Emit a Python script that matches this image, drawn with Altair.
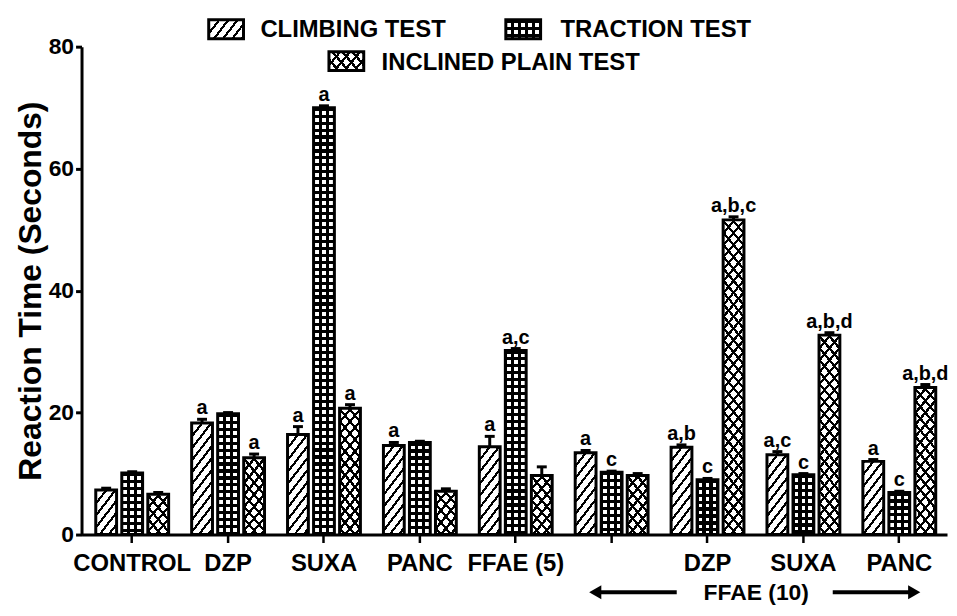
import altair as alt
import pandas as pd

# ---------------- data ----------------
categories = ["CONTROL", "DZP", "SUXA", "PANC", "FFAE (5)", "FFAE (10)",
              "DZP + FFAE (10)", "SUXA + FFAE (10)", "PANC + FFAE (10)"]
tick_labels = ["CONTROL", "DZP", "SUXA", "PANC", "FFAE (5)", "", "DZP", "SUXA", "PANC"]
series = ["CLIMBING TEST", "TRACTION TEST", "INCLINED PLAIN TEST"]

climbing = [7.3, 18.3, 16.4, 14.6, 14.4, 13.4, 14.3, 13.1, 12.0]
traction = [10.1, 19.8, 70.0, 15.1, 30.2, 10.2, 9.0, 9.8, 6.9]
inclined = [6.6, 12.6, 20.7, 7.1, 9.7, 9.7, 51.6, 32.7, 24.1]

climbing_err = [0.3, 0.6, 1.3, 0.5, 1.7, 0.4, 0.4, 0.5, 0.3]
traction_err = [0.2, 0.2, 0.3, 0.2, 0.3, 0.2, 0.2, 0.2, 0.2]
inclined_err = [0.3, 0.6, 0.6, 0.4, 1.4, 0.3, 0.5, 0.4, 0.5]

climbing_sig = ["", "a", "a", "a", "a", "a", "a,b", "a,c", "a"]
traction_sig = ["", "", "a", "", "a,c", "c", "c", "c", "c"]
inclined_sig = ["", "a", "a", "", "", "", "a,b,c", "a,b,d", "a,b,d"]

group_label = "FFAE (10)"

# ---------------- layout ----------------
W, H = 871, 491
YMAX = 80
PXU = H / YMAX
X_PI, X_PO, X_ALIGN = 0.24, 0.133, 0.558
O_PI = 0.2
step = W / (len(categories) - X_PI + 2 * X_PO)
bandw = step * (1 - X_PI)
bar_w = bandw / (len(series) - O_PI) * (1 - O_PI)

FONT = "Liberation Sans"
CLEAR = "rgba(0,0,0,0)"


def stripe_stops(n, duty, on, off, phase=0.0):
    p = 1.0 / n
    stops = []
    m = -1
    while True:
        a = (m + phase) * p
        if a >= 1:
            break
        b = a + duty * p
        a2, b2 = max(a, 0.0), min(b, 1.0)
        if b2 > a2:
            stops += [(a2, off), (a2, on), (b2, on), (b2, off)]
        m += 1
    if not stops:
        stops = [(0.0, off), (1.0, off)]
    return [{"offset": round(o, 5), "color": c} for o, c in stops]


def grad_diag(w, h, s, period, duty, on, off, family, phase=0.0):
    D = s * w + h
    k = D / (s * s * w * w + h * h)
    st = stripe_stops(D / period, duty, on, off, phase)
    if family == "/":
        return {"gradient": "linear", "x1": 0, "y1": 0,
                "x2": round(k * s * w, 6), "y2": round(k * h, 6), "stops": st}
    return {"gradient": "linear", "x1": 1, "y1": 0,
            "x2": round(1 - k * s * w, 6), "y2": round(k * h, 6), "stops": st}


def grad_cols(w, period, duty, on, off, phase):
    n = max(1, round(w / period))
    return {"gradient": "linear", "x1": 0, "y1": 0, "x2": 1, "y2": 0,
            "stops": stripe_stops(n, duty, on, off, phase)}


def grad_rows(h, period, duty, on, off, phase=0.0):
    return {"gradient": "linear", "x1": 0, "y1": 0, "x2": 0, "y2": 1,
            "stops": stripe_stops(h / period, duty, on, off, phase)}


def pattern_fills(kind, w, h):
    if kind == 0:
        return [grad_diag(w, h, 1.3, 12, 0.3, "black", "white", "/")]
    if kind == 1:
        return [grad_cols(w, 7, 0.55, "white", "black", 0.225),
                grad_rows(h, 7, 0.45, "black", CLEAR)]
    return [grad_diag(w, h, 1.2, 12, 0.3, "black", "white", "/"),
            grad_diag(w, h, 1.2, 12, 0.3, "black", CLEAR, "\\")]


rows = []
for j, (s, vals, errs, sigs) in enumerate(zip(
        series, [climbing, traction, inclined],
        [climbing_err, traction_err, inclined_err],
        [climbing_sig, traction_sig, inclined_sig])):
    for i, c in enumerate(categories):
        rows.append({"cat": c, "series": s, "value": vals[i], "err": errs[i],
                     "top": round(vals[i] + errs[i], 3), "sig": sigs[i], "kind": j})
df = pd.DataFrame(rows)

# ---------------- scales / axes ----------------
xs = alt.Scale(domain=categories, paddingInner=X_PI, paddingOuter=X_PO, align=X_ALIGN)
os_ = alt.Scale(domain=series, paddingInner=O_PI, paddingOuter=0)
ys = alt.Scale(domain=[0, YMAX], nice=False, zero=True)

cats_js = "[" + ",".join("'" + c + "'" for c in categories) + "]"
labs_js = "[" + ",".join("'" + l + "'" for l in tick_labels) + "]"

x_axis = alt.Axis(title=None, labelExpr=f"{labs_js}[indexof({cats_js}, datum.value)]",
                  labelAngle=0, labelFontSize=24, labelFont=FONT, labelFontWeight="bold",
                  labelColor="black", labelPadding=9, labelOverlap=False,
                  tickSize=8, tickWidth=2.5, tickColor="black",
                  domainColor="black", domainWidth=3, grid=False)
y_axis = alt.Axis(title="Reaction Time (Seconds)", values=[0, 20, 40, 60, 80],
                  labelFontSize=23, labelFont=FONT, labelFontWeight="bold",
                  labelColor="black", labelPadding=2,
                  tickSize=6, tickWidth=3, tickColor="black",
                  domainColor="black", domainWidth=3, grid=False,
                  titleFont=FONT, titleFontSize=32, titleFontWeight="bold",
                  titleColor="black", titlePadding=1)


def enc(chart, yfield="value:Q", **extra):
    return chart.encode(
        x=alt.X("cat:N", scale=xs, axis=x_axis),
        xOffset=alt.XOffset("series:N", scale=os_),
        y=alt.Y(yfield, scale=ys, axis=y_axis),
        **extra)


layers = []
for r in rows:
    h = r["value"] * PXU
    for g in pattern_fills(r["kind"], bar_w, h):
        ch = alt.Chart().transform_filter(
            f"datum.cat === '{r['cat']}' && datum.series === '{r['series']}'"
        ).mark_bar(fill=g)
        layers.append(enc(ch))

# outlines
layers.append(enc(alt.Chart().mark_bar(fillOpacity=0, stroke="black", strokeWidth=3)))
# error bars
layers.append(enc(alt.Chart().mark_rule(color="black", strokeWidth=3), y2="top:Q"))
layers.append(enc(alt.Chart().mark_tick(color="black", thickness=3, size=10, opacity=1),
                  yfield="top:Q"))
# significance letters
layers.append(enc(alt.Chart().transform_filter("datum.sig != ''").mark_text(
    font=FONT, fontWeight="bold", fontSize=20, baseline="alphabetic", dy=-5, color="black"),
    yfield="top:Q", text="sig:N"))

# ---------------- legend ----------------
legend_pos = [  # swatch x, y (plot coords), text x, text baseline y
    (128, -27, 180, -10),
    (427, -27, 482, -10),
    (249, 5, 302, 23),
]
SW, SH = 35, 19
for j, (sx, sy, tx, ty) in enumerate(legend_pos):
    ldf = pd.DataFrame({"label": [series[j]]})
    for g in pattern_fills(j, SW, SH):
        layers.append(alt.Chart(ldf).mark_rect(fill=g).encode(
            x=alt.value(sx), x2=alt.value(sx + SW), y=alt.value(sy), y2=alt.value(sy + SH)))
    layers.append(alt.Chart(ldf).mark_rect(fillOpacity=0, stroke="black", strokeWidth=3).encode(
        x=alt.value(sx), x2=alt.value(sx + SW), y=alt.value(sy), y2=alt.value(sy + SH)))
    layers.append(alt.Chart(ldf).mark_text(
        font=FONT, fontWeight="bold", fontSize=24, align="left", baseline="alphabetic",
        color="black").encode(x=alt.value(tx), y=alt.value(ty), text="label:N"))

# ---------------- group annotation ----------------
gdf = pd.DataFrame({"label": [group_label]})
AY = 549
layers.append(alt.Chart(gdf).mark_text(
    font=FONT, fontWeight="bold", fontSize=23, align="center", baseline="alphabetic",
    color="black").encode(x=alt.value(679), y=alt.value(557), text="label:N"))
layers.append(alt.Chart(gdf).mark_rule(color="black", strokeWidth=4).encode(
    x=alt.value(516), x2=alt.value(599), y=alt.value(AY)))
layers.append(alt.Chart(gdf).mark_rule(color="black", strokeWidth=4).encode(
    x=alt.value(756), x2=alt.value(839), y=alt.value(AY)))
layers.append(alt.Chart(gdf).mark_point(shape="triangle-left", filled=True, size=200,
                                         color="black", opacity=1).encode(
    x=alt.value(517), y=alt.value(AY)))
layers.append(alt.Chart(gdf).mark_point(shape="triangle-right", filled=True, size=200,
                                         color="black", opacity=1).encode(
    x=alt.value(838), y=alt.value(AY)))

chart = alt.layer(*layers, data=df).properties(
    width=W, height=H,
    autosize=alt.AutoSizeParams(type="none"),
    padding={"left": 74, "top": 37, "right": 2, "bottom": 72},
).configure_view(stroke=None)

chart.save("out.html", embed_options={"renderer": "svg", "actions": False})
